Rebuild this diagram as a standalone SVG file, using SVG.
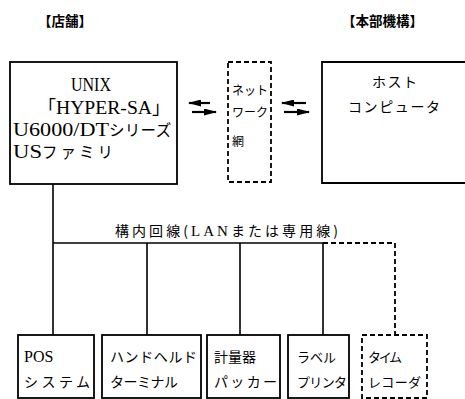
<svg xmlns="http://www.w3.org/2000/svg" width="465" height="399" viewBox="0 0 465 399">
<style>
.t{font-family:"Liberation Serif","Noto Sans CJK JP",serif;fill:#000;}
.j{font-family:"Noto Sans CJK JP","Liberation Serif",sans-serif;fill:#000;}
.k{font-family:"Noto Sans CJK JP",sans-serif;}
.s{font-family:"Liberation Serif",serif;}
.box{fill:none;stroke:#000;stroke-width:1.8;}
.dash{fill:none;stroke:#000;stroke-width:1.8;stroke-dasharray:5 3;}
.ln{fill:none;stroke:#000;stroke-width:1.6;}
.ar{fill:none;stroke:#000;stroke-width:2.2;}
</style>
<defs>
<marker id="ah" markerUnits="userSpaceOnUse" markerWidth="13" markerHeight="7" refX="12" refY="3.5" orient="auto">
<path d="M0,0 L13,3.5 L0,7 Z" fill="#000"/>
</marker>
</defs>
<rect width="465" height="399" fill="#fff"/>
<g id="headers">
<text class="j" x="38" y="26" font-size="13.5" font-weight="bold">【店舗】</text>
<text class="j" x="342" y="26" font-size="13.5" font-weight="bold" textLength="81" lengthAdjust="spacing">【本部機構】</text>
</g>
<g id="store-server">
<rect class="box" x="10" y="62" width="167" height="122"/>
<text class="t" x="71" y="91" font-size="18" textLength="40" lengthAdjust="spacingAndGlyphs">UNIX</text>
<text class="t" x="38" y="114" font-size="18"><tspan class="k">「</tspan><tspan textLength="96" lengthAdjust="spacingAndGlyphs">HYPER-SA</tspan><tspan class="k">」</tspan></text>
<text class="t" x="13" y="136" font-size="19"><tspan textLength="96" lengthAdjust="spacingAndGlyphs">U6000/DT</tspan><tspan class="k" font-size="15.5" letter-spacing="0.3">シリーズ</tspan></text>
<text class="t" x="13" y="158" font-size="19"><tspan textLength="29" lengthAdjust="spacingAndGlyphs">US</tspan><tspan class="k" font-size="15.5" letter-spacing="3">ファミリ</tspan></text>
</g>
<g id="network">
<rect class="dash" x="228" y="62" width="43" height="120"/>
<text class="j" x="232" y="95" font-size="12" textLength="36" lengthAdjust="spacing">ネット</text>
<text class="j" x="232" y="117" font-size="12" textLength="36" lengthAdjust="spacing">ワーク</text>
<text class="j" x="232" y="146" font-size="12">網</text>
</g>
<g id="host">
<path class="box" d="M470,62 H322 V183 H470"/>
<text class="j" x="372" y="87" font-size="14" textLength="45" lengthAdjust="spacing">ホスト</text>
<text class="j" x="348" y="112" font-size="14" textLength="92" lengthAdjust="spacing">コンピュータ</text>
</g>
<g id="pos">
<rect class="box" x="18" y="335" width="76" height="63"/>
<text class="t" x="24" y="362" font-size="16">POS</text>
<text class="j" x="24" y="387" font-size="14" textLength="66" lengthAdjust="spacing">システム</text>
</g>
<g id="handheld">
<rect class="box" x="102" y="335" width="99" height="63"/>
<text class="j" x="110" y="362" font-size="14" textLength="87" lengthAdjust="spacing">ハンドヘルド</text>
<text class="j" x="110" y="387" font-size="14" textLength="68" lengthAdjust="spacing">ターミナル</text>
</g>
<g id="scale">
<rect class="box" x="207" y="335" width="73" height="63"/>
<text class="j" x="214" y="362" font-size="14">計量器</text>
<text class="j" x="214" y="387" font-size="14" textLength="63" lengthAdjust="spacing">パッカー</text>
</g>
<g id="label-printer">
<rect class="box" x="288" y="335" width="61" height="63"/>
<text class="j" x="297" y="362" font-size="13">ラベル</text>
<text class="j" x="297" y="387" font-size="13" textLength="50" lengthAdjust="spacing">プリンタ</text>
</g>
<g id="time-recorder">
<rect class="dash" x="362" y="335" width="65" height="63"/>
<text class="j" x="368" y="362" font-size="13" textLength="34" lengthAdjust="spacing">タイム</text>
<text class="j" x="368" y="387" font-size="13" textLength="53" lengthAdjust="spacing">レコーダ</text>
</g>
<g id="connectors">
<path class="ln" d="M53,184 V335"/>
<path class="ln" d="M53,243 H323"/>
<path class="ln" d="M147,243 V335 M240,243 V335 M323,243 V335"/>
<path class="dash" d="M323,243 H395 V335"/>
<text class="j" x="115" y="236" font-size="14" textLength="223" lengthAdjust="spacing">構内回線(<tspan class="s" font-size="15">LAN</tspan>または専用線)</text>
<path class="ar" d="M210,103 H189" marker-end="url(#ah)"/>
<path class="ar" d="M192,112 H216" marker-end="url(#ah)"/>
<path class="ar" d="M306,103 H282" marker-end="url(#ah)"/>
<path class="ar" d="M284,112 H309" marker-end="url(#ah)"/>
</g>
</svg>
